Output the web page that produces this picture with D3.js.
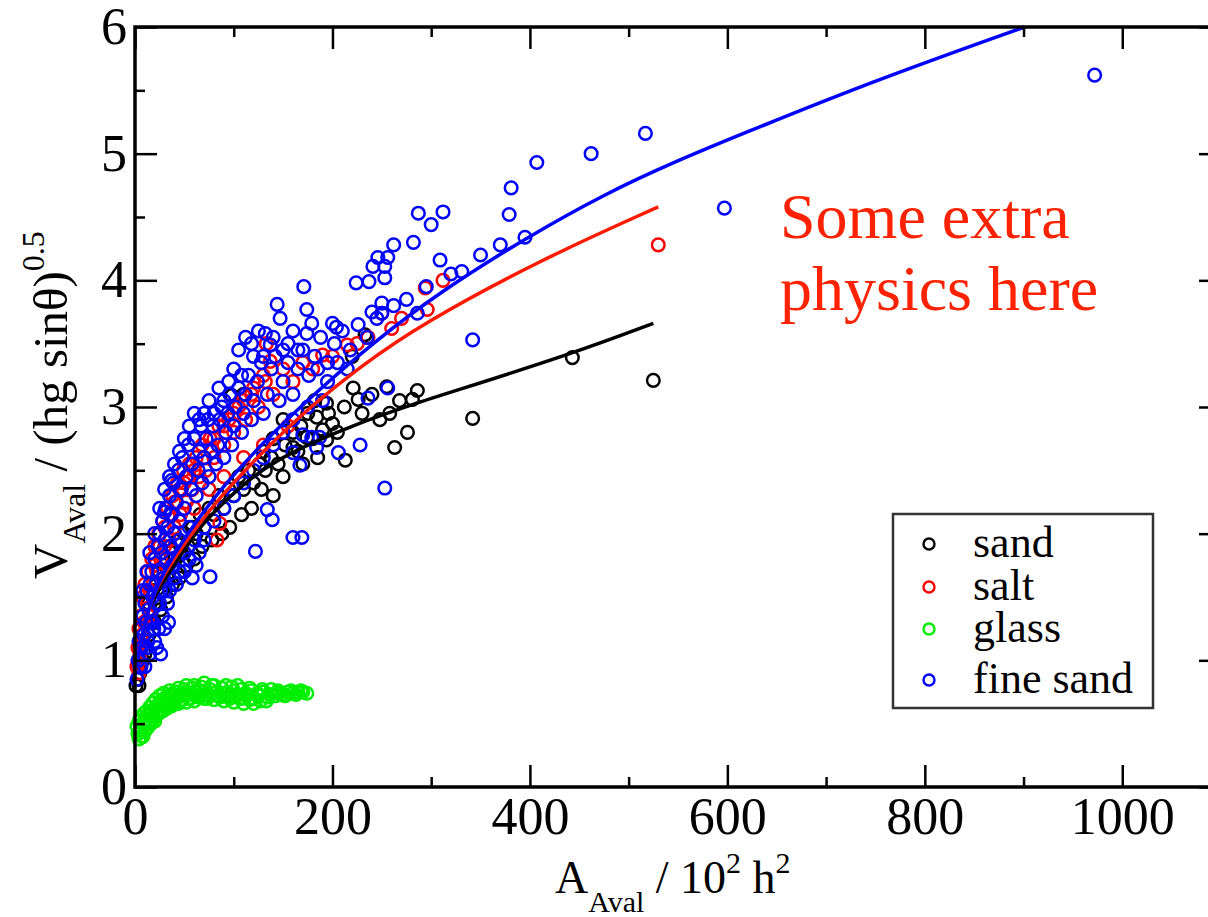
<!DOCTYPE html>
<meta charset="utf-8">
<title>Avalanche velocity</title>
<style>
body {
  margin: 0;
  background: #fff;
}
text {
  font-family: "Liberation Serif", "Times New Roman", serif;
}
.pt {
  fill: none;
  stroke-width: 2.5px;
}
.fit {
  fill: none;
  stroke-width: 3.5px;
}
</style>
<body>
<script src="https://cdnjs.cloudflare.com/ajax/libs/d3/7.8.5/d3.min.js"></script>
<script>
var w = 1208,
    h = 917;

// scatter data, [A, V]
var sand = [[1,0.8],[3,0.85],[4,1.0],[5,0.9],[6,1.1],[8,1.2],[10,1.05],[12,1.3],[14,1.45],[16,1.35],[18,1.55],[20,1.45],
  [22,1.6],[25,1.7],[27,1.55],[30,1.75],[33,1.65],[36,1.85],[40,1.8],[43,1.95],[47,1.85],[50,2.0],[54,1.9],[58,2.05],
  [62,2.0],[66,2.15],[70,2.05],[75,2.2],[80,2.15],[85,2.3],[90,2.2],[95,2.35],[100,2.3],[105,2.45],[110,2.35],[115,2.5],
  [120,2.4],[126,2.55],[132,2.5],[138,2.6],[145,2.55],[152,2.7],[165,2.65],[180,2.75],[98,3.09],[110,3.1],
  [160,2.68],[174,2.76],[184,2.92],[190,2.82],[194,3.03],[194,2.74],[200,2.87],[213,2.58],[220,3.4],[221,3.15],
  [226,3.06],[233,3.57],[255,3.16],[263,2.68],[281,3.06],[286,3.13],[342,2.91],[443,3.39],[525,3.21],
  [168,2.85],[175,2.95],[182,3.05],[196,2.95],[205,2.8],[212,3.0],[230,2.95],[240,3.1],[248,2.9],[258,2.95],
  [268,3.05],[276,2.8],[185,2.6],[170,2.55],[150,2.45],[140,2.3],[128,2.35],[118,2.2],[108,2.15],[96,2.05],
  [88,2.0],[78,1.95],[68,1.9],[60,1.8],[52,1.75],[45,1.65],[38,1.6],[32,1.5],[26,1.4],[20,1.3],[14,1.2],[8,1.0],
  [4,0.8],[160,2.8],[150,2.9],[140,2.75],[130,2.65]];

var salt = [[2,0.95],[3,1.1],[4,1.25],[5,1.05],[6,1.35],[7,1.2],[8,1.5],[9,1.3],[10,1.6],[12,1.45],[13,1.7],[15,1.55],
  [17,1.8],[18,1.6],[20,1.9],[22,1.7],[24,2.0],[26,1.8],[28,2.1],[30,1.9],[33,2.2],[35,1.95],[38,2.3],[40,2.05],
  [43,2.4],[46,2.15],[49,2.5],[52,2.25],[55,2.55],[58,2.35],[62,2.6],[65,2.45],[68,2.7],[72,2.5],[76,2.75],[80,2.6],
  [85,2.85],[90,2.7],[95,2.9],[100,2.8],[105,3.0],[112,2.9],[118,3.1],[125,3.0],[132,3.2],[140,3.1],[150,3.3],
  [160,3.2],[170,3.35],[180,3.3],[137,3.36],[133,3.5],[190,3.41],[200,3.4],[215,3.49],[225,3.5],[236,3.55],
  [250,3.74],[260,3.62],[270,3.7],[294,3.94],[296,3.77],[312,4.0],[530,4.28],[86,2.08],[83,1.95],
  [20,1.75],[25,1.9],[30,2.05],[35,2.15],[40,2.25],[45,2.35],[50,2.4],[55,2.45],[60,2.5],[70,2.6],[80,2.75],
  [90,2.85],[100,2.95],[110,3.05],[120,3.15],[130,3.25],[60,2.2],[75,2.35],[90,2.45],[110,2.6],[130,2.7],
  [155,2.85],[8,1.15],[14,1.35],[4,0.9],[3,0.98]];

var glass = [[2,0.48],[3,0.42],[4,0.52],[5,0.45],[6,0.55],[7,0.4],[8,0.5],[9,0.58],[10,0.44],[11,0.53],[12,0.6],
  [13,0.47],[14,0.56],[15,0.63],[16,0.5],[17,0.59],[18,0.66],[19,0.54],[20,0.62],[21,0.69],[22,0.57],[24,0.65],
  [25,0.72],[26,0.6],[28,0.68],[29,0.74],[30,0.63],[32,0.7],[34,0.66],[35,0.76],[37,0.64],[38,0.72],[40,0.68],
  [42,0.75],[44,0.66],[46,0.73],[48,0.69],[50,0.77],[52,0.67],[54,0.74],[56,0.7],[58,0.78],[60,0.68],[62,0.75],
  [65,0.71],[67,0.79],[70,0.7],[72,0.76],[75,0.72],[78,0.8],[80,0.69],[83,0.75],[86,0.71],[88,0.78],[90,0.68],
  [93,0.74],[96,0.7],[98,0.79],[100,0.67],[103,0.73],[106,0.7],[108,0.77],[110,0.66],[113,0.72],[116,0.69],
  [118,0.76],[120,0.7],[124,0.74],[127,0.68],[130,0.75],[134,0.71],[138,0.77],[142,0.72],[146,0.74],[150,0.73],
  [155,0.75],[160,0.74],[165,0.75],[170,0.75],[174,0.74],
  [4,0.38],[6,0.44],[8,0.4],[10,0.5],[12,0.47],[14,0.5],[16,0.58],[18,0.55],[20,0.52],[22,0.6],[24,0.58],
  [26,0.68],[28,0.6],[30,0.7],[32,0.62],[34,0.72],[36,0.68],[38,0.65],[40,0.75],[42,0.7],[44,0.78],[46,0.68],
  [48,0.74],[50,0.72],[52,0.8],[55,0.7],[58,0.73],[60,0.8],[63,0.72],[66,0.76],[70,0.82],[73,0.7],[76,0.77],
  [80,0.8],[84,0.72],[88,0.74],[92,0.8],[95,0.72],[100,0.76],[104,0.8],[108,0.7],[112,0.74],[116,0.78],
  [120,0.66],[125,0.72],[129,0.77],[133,0.68],[137,0.73],[145,0.76],[152,0.72],[158,0.76],[163,0.73],[168,0.76]];

var fineSand = [[2,0.85],[3,1.0],[4,1.15],[5,0.95],[6,1.25],[7,1.1],[8,1.35],[9,1.2],[10,1.45],[11,1.3],[12,1.55],
  [13,1.15],[14,1.4],[15,1.6],[16,1.3],[17,1.7],[18,1.5],[19,1.25],[20,1.8],[21,1.6],[22,1.45],[23,1.9],[24,1.7],
  [25,2.0],[26,1.55],[27,1.85],[28,2.1],[29,1.65],[30,1.95],[31,2.2],[32,1.8],[33,2.05],[35,2.3],[36,1.9],[37,2.15],
  [39,2.4],[40,2.0],[42,2.25],[44,2.5],[45,2.1],[47,2.35],[48,2.6],[50,2.2],[52,2.45],[54,2.7],[55,2.05],[57,2.35],
  [58,2.55],[60,2.75],[62,2.3],[64,2.5],[65,2.65],[67,2.85],[68,2.4],[70,2.6],[72,2.75],[74,2.9],[75,2.45],[77,2.65],
  [79,2.85],[80,2.95],[82,2.55],[84,2.7],[86,2.9],[88,3.0],[90,2.6],[92,2.8],[94,2.95],[96,3.1],[98,2.7],[100,2.85],
  [102,3.0],[105,3.15],[108,2.8],[110,2.95],[112,3.1],[115,3.25],[118,2.9],[120,3.05],[124,3.2],[128,3.35],[130,2.95],
  [134,3.1],[138,3.3],[142,3.4],[146,3.05],[150,3.2],[155,3.35],[160,3.1],[165,3.3],[170,3.45],[176,3.25],[182,3.4],
  [188,3.55],[195,3.35],[202,3.5],[210,3.6],[218,3.45],[226,3.65],[235,3.55],[245,3.7],[262,3.8],[275,3.85],
  [295,3.95],[320,4.05],[350,4.2],[370,4.28],
  [10,0.95],[15,1.05],[20,1.15],[24,1.25],[35,1.55],[40,1.65],[45,1.7],[55,1.8],[62,1.75],[70,1.95],
  [37,2.42],[30,2.17],[76,1.66],[122,1.86],[134,2.19],[139,2.11],[160,1.97],[169,1.97],[167,2.54],[160,2.64],
  [170,2.78],[179,2.76],[187,2.76],[184,2.68],[206,2.64],[228,2.7],[236,3.07],[256,3.15],[253,2.36],
  [132,3.58],[137,3.49],[155,3.5],[144,3.81],[147,3.7],[171,3.95],[174,3.77],[174,3.58],[179,3.66],[200,3.66],
  [204,3.63],[224,3.98],[237,3.99],[240,3.75],[241,4.11],[246,4.18],[250,3.74],[250,3.82],[253,4.11],[253,4.02],
  [256,4.18],[262,4.28],[282,4.3],[286,3.74],[287,4.53],[300,4.44],[309,4.16],[312,4.54],[331,4.07],[342,3.53],
  [379,4.52],[381,4.73],[395,4.34],[407,4.93],[462,5.0],[517,5.16],[597,4.57],[972,5.62],
  [100,3.3],[105,3.45],[112,3.55],[120,3.4],[125,3.6],[118,3.5],[108,3.25],[95,3.2],[90,3.05],[85,3.15],[75,3.05],
  [70,2.95],[65,2.9],[60,2.95],[55,2.85],[50,2.75],[45,2.65],[40,2.55],[35,2.45],[30,2.35],[25,2.2],[20,2.0],
  [15,1.85],[12,1.7],[8,1.55],[130,3.4],[140,3.55],[150,3.45],[160,3.6],[165,3.45],[185,3.3],[195,3.2],[205,3.35],
  [215,3.3],[190,3.05],[175,3.0],[160,2.9],[150,2.8],[140,2.7],[130,2.6],[120,2.5],[110,2.4],[100,2.3],[90,2.2],
  [80,2.1],[70,2.05],[60,1.95],[50,1.85],[45,1.95],[38,1.75],[30,1.55],[25,1.45],[18,1.3],[12,1.1],[6,0.95],
  [28,1.35],[33,1.45],[42,1.6],[50,1.7],[58,1.65],[65,1.85],[26,1.05],[22,1.1],[30,1.25],[34,1.3]];

// fitted curves, points
var sandFit = [[15,1.42],[25,1.58],[43,1.79],[63,2.03],[86,2.22],[120,2.46],[154,2.63],[221,2.86],[289,3.04],
  [309,3.09],[443,3.42],[525,3.66]];
var saltFit = [[2,0.95],[5,1.12],[10,1.3],[18,1.5],[28,1.67],[66,2.1],[99,2.4],[134,2.68],[174,2.98],[230,3.33],
  [289,3.65],[410,4.16],[530,4.58]];
var fineFit = [[2,0.95],[5,1.12],[10,1.3],[17,1.48],[28,1.69],[53,2.0],[86,2.35],[137,2.78],[187,3.14],[240,3.5],
  [309,3.91],[397,4.34],[478,4.69],[545,4.93],[613,5.15],[750,5.58],[901,6.0]];

var names = ["sand", "salt", "glass", "fine sand"];
var colors = ["#000000", "#ff0000", "#00ee00", "#0000ff"];
var xMajor = [0, 200, 400, 600, 800, 1000],
    xMinor = [100, 300, 500, 700, 900],
    yMajor = [0, 1, 2, 3, 4, 5, 6],
    yMinor = [0.5, 1.5, 2.5, 3.5, 4.5, 5.5];

var x = d3.scaleLinear().domain([0, 1100]).range([135, 1221]),
    y = d3.scaleLinear().domain([0, 6]).range([787, 27]);

var svg = d3.select("body").append("svg")
    .attr("width", w)
    .attr("height", h);

// scatter
[sand, salt, glass, fineSand].forEach(function(set, i) {
  svg.append("g")
    .selectAll("circle")
      .data(set)
    .enter().append("circle")
      .attr("class", "pt")
      .attr("cx", function(d) { return x(d[0]); })
      .attr("cy", function(d) { return y(d[1]); })
      .attr("r", 6.3)
      .style("stroke", colors[i]);
});

// fit lines
var line = d3.line()
    .x(function(d) { return x(d[0]); })
    .y(function(d) { return y(d[1]); })
    .curve(d3.curveBasis);
[[sandFit, "#000"], [saltFit, "#ff1a00"], [fineFit, "#0000ff"]].forEach(function(f) {
  svg.append("path")
      .datum(f[0])
      .attr("class", "fit")
      .attr("d", line)
      .style("stroke", f[1]);
});

// axes, ticks pointing inward on all four sides
function styleAxis(g) {
  g.select(".domain").remove();
  g.selectAll("line").attr("stroke", "#000").attr("stroke-width", 2.5);
  g.selectAll("text").style("font-size", "52px").attr("fill", "#000");
}
svg.append("g").attr("transform", "translate(0," + y(0) + ")")
    .call(d3.axisBottom(x).tickValues(xMajor).tickSize(-22).tickSizeOuter(0).tickPadding(10).tickFormat(d3.format("d")))
    .call(styleAxis);
svg.append("g").attr("transform", "translate(0," + y(0) + ")")
    .call(d3.axisBottom(x).tickValues(xMinor).tickSize(-10).tickSizeOuter(0).tickFormat(""))
    .call(styleAxis);
svg.append("g").attr("transform", "translate(0," + y(6) + ")")
    .call(d3.axisTop(x).tickValues(xMajor).tickSize(-22).tickSizeOuter(0).tickFormat(""))
    .call(styleAxis);
svg.append("g").attr("transform", "translate(0," + y(6) + ")")
    .call(d3.axisTop(x).tickValues(xMinor).tickSize(-10).tickSizeOuter(0).tickFormat(""))
    .call(styleAxis);
svg.append("g").attr("transform", "translate(" + x(0) + ",0)")
    .call(d3.axisLeft(y).tickValues(yMajor).tickSize(-22).tickSizeOuter(0).tickPadding(8).tickFormat(d3.format("d")))
    .call(styleAxis);
svg.append("g").attr("transform", "translate(" + x(0) + ",0)")
    .call(d3.axisLeft(y).tickValues(yMinor).tickSize(-10).tickSizeOuter(0).tickFormat(""))
    .call(styleAxis);
svg.append("g").attr("transform", "translate(" + x(1100) + ",0)")
    .call(d3.axisRight(y).tickValues(yMajor).tickSize(-22).tickSizeOuter(0).tickFormat(""))
    .call(styleAxis);
svg.append("g").attr("transform", "translate(" + x(1100) + ",0)")
    .call(d3.axisRight(y).tickValues(yMinor).tickSize(-10).tickSizeOuter(0).tickFormat(""))
    .call(styleAxis);

svg.append("rect")
    .attr("x", x(0))
    .attr("y", y(6))
    .attr("width", x(1100) - x(0))
    .attr("height", y(0) - y(6))
    .attr("fill", "none")
    .attr("stroke", "#000")
    .attr("stroke-width", 3.5);

// axis titles
var xt = svg.append("text")
    .attr("x", 555)
    .attr("y", 893)
    .style("font-size", "46px");
xt.append("tspan").text("A");
xt.append("tspan").attr("dy", 19).style("font-size", "30px").text("Aval");
xt.append("tspan").attr("dy", -19).text(" / 10");
xt.append("tspan").attr("dy", -20).style("font-size", "30px").text("2");
xt.append("tspan").attr("dy", 20).text(" h");
xt.append("tspan").attr("dy", -20).style("font-size", "30px").text("2");

var yt = svg.append("text")
    .attr("transform", "translate(67,579) rotate(-90)")
    .style("font-size", "49px");
yt.append("tspan").text("V");
yt.append("tspan").attr("dy", 18).style("font-size", "32px").text("Aval");
yt.append("tspan").attr("dy", -18).text(" / (hg sin\u03b8)");
yt.append("tspan").attr("dy", -23).style("font-size", "32px").text("0.5");

// legend
svg.append("rect")
    .attr("x", 893)
    .attr("y", 514)
    .attr("width", 260)
    .attr("height", 194)
    .attr("fill", "#fff")
    .attr("stroke", "#333")
    .attr("stroke-width", 2.5);
var leg = svg.selectAll(".leg")
    .data(names)
  .enter().append("g")
    .attr("class", "leg")
    .attr("transform", function(d, i) { return "translate(0," + [557, 600, 642, 693][i] + ")"; });
leg.append("circle")
    .attr("cx", 929)
    .attr("cy", -13)
    .attr("r", 5.5)
    .attr("fill", "none")
    .attr("stroke-width", 2.4)
    .attr("stroke", function(d, i) { return colors[i]; });
leg.append("text")
    .attr("x", 973)
    .style("font-size", "44px")
    .text(function(d) { return d; });

// annotation
var note = svg.append("text")
    .attr("x", 780)
    .attr("y", 238)
    .attr("fill", "#ff2200")
    .style("font-size", "64px");
note.append("tspan").text("Some extra");
note.append("tspan").attr("x", 780).attr("dy", 72).text("physics here");
</script>
